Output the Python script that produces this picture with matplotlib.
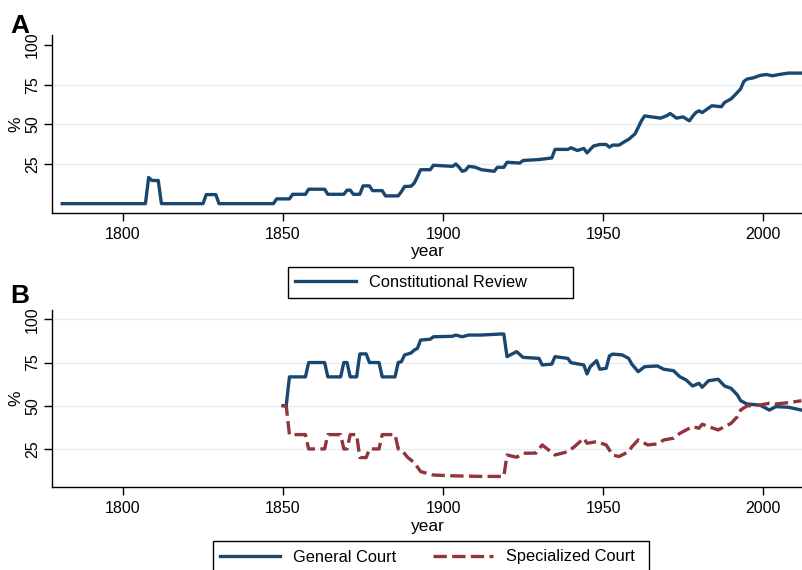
import matplotlib
matplotlib.use("Agg")
import matplotlib.pyplot as plt
from matplotlib.patches import Rectangle

plt.rcParams['font.family'] = ['Liberation Sans', 'DejaVu Sans']

BLUE = '#1a476f'
RED = '#90353b'
GRID = '#e6eef2'

# panel A: constitutional review (% of constitutions)
review_years = [1781, 1807, 1808, 1809, 1811, 1812, 1825, 1826, 1829, 1830,
                1847, 1848, 1852, 1853, 1857, 1858, 1863, 1864, 1869, 1870,
                1871, 1872, 1874, 1875, 1877, 1878, 1881, 1882, 1886, 1887,
                1888, 1890, 1891, 1892, 1893, 1896, 1897, 1903, 1904, 1905,
                1906, 1907, 1908, 1910, 1912, 1916, 1917, 1919, 1920, 1924,
                1925, 1930, 1934, 1935, 1939, 1940, 1942, 1944, 1945, 1947,
                1949, 1951, 1952, 1953, 1955, 1957, 1958, 1960, 1961, 1962,
                1963, 1968, 1970, 1971, 1973, 1975, 1977, 1978, 1979, 1980,
                1981, 1984, 1987, 1988, 1990, 1991, 1993, 1994, 1995, 1997,
                1999, 2001, 2003, 2005, 2008, 2012]
review_pct = [0, 0, 16.5, 14.6, 14.6, 0, 0, 5.7, 5.7, 0,
              0, 3, 3, 5.9, 5.9, 9.1, 9.1, 5.9, 5.9, 8.5,
              8.5, 5.9, 5.9, 11.2, 11.2, 8.2, 8.2, 4.9, 4.9, 7.6,
              10.8, 11, 12.9, 17, 21.4, 21.4, 24.2, 23.5, 25, 23,
              20.4, 21, 23.5, 23, 21.4, 20.4, 22.9, 22.9, 26.1, 25.6,
              27.2, 27.8, 28.8, 34.2, 34.2, 35.2, 33.5, 34.8, 32, 36.3,
              37.3, 37.3, 35.6, 36.9, 36.9, 39.4, 40.5, 44, 48, 52.2,
              55.3, 53.9, 55.5, 56.8, 53.9, 54.7, 52.2, 55, 57.4, 58.5,
              57.4, 61.7, 61.1, 63.8, 66, 68, 72.3, 77, 78.5, 79.3,
              80.8, 81.4, 80.6, 81.4, 82.3, 82.3]

# panel B: general vs specialized court
general_years = [1850, 1851, 1852, 1857, 1858, 1863, 1864, 1868, 1869, 1870,
                 1871, 1873, 1874, 1876, 1877, 1880, 1881, 1885, 1886, 1887,
                 1888, 1890, 1891, 1892, 1893, 1896, 1897, 1903, 1904, 1906,
                 1908, 1912, 1918, 1919, 1920, 1923, 1925, 1930, 1931, 1934,
                 1935, 1939, 1940, 1944, 1945, 1946, 1948, 1949, 1951, 1952,
                 1953, 1956, 1958, 1959, 1961, 1963, 1967, 1969, 1972, 1974,
                 1976, 1978, 1980, 1981, 1983, 1986, 1988, 1990, 1992, 1993,
                 1995, 1999, 2002, 2004, 2008, 2012]
general_pct = [50, 50, 66.7, 66.7, 75, 75, 66.7, 66.7, 75, 75,
               66.7, 66.7, 80, 80, 75, 75, 66.7, 66.7, 75, 75.5,
               79.4, 80.5, 82.2, 83.2, 88, 88.5, 89.9, 90.2, 90.9, 89.9,
               90.9, 90.9, 91.5, 91.5, 78.4, 81.3, 78, 77.4, 73.6, 74.1,
               78.4, 77.4, 74.9, 73.6, 68.4, 72.6, 76.1, 71.1, 71.7, 78.8,
               79.9, 79.4, 77.4, 74.1, 69.7, 72.6, 73, 71.1, 70.3, 66.8,
               64.9, 61.4, 63, 60.7, 64.5, 65.3, 61.4, 60.1, 56.2, 52.9,
               51, 50.4, 47.5, 49.5, 49.1, 47.5]

special_years = [1850, 1851, 1852, 1857, 1858, 1863, 1864, 1868, 1869, 1870,
                 1871, 1873, 1874, 1876, 1877, 1880, 1881, 1885, 1886, 1887,
                 1889, 1891, 1893, 1897, 1904, 1912, 1919, 1920, 1923, 1925,
                 1929, 1931, 1935, 1939, 1941, 1944, 1945, 1948, 1951, 1953,
                 1955, 1958, 1959, 1961, 1964, 1967, 1969, 1972, 1974, 1976,
                 1978, 1980, 1981, 1983, 1986, 1988, 1990, 1992, 1993, 1995,
                 1999, 2002, 2004, 2008, 2012]
special_pct = [50, 50, 33.3, 33.3, 25, 25, 33.3, 33.3, 25, 25,
               33.3, 33.3, 20, 20, 25, 25, 33.3, 33.3, 25, 24.5,
               20, 17.1, 11.9, 9.9, 9.4, 9.1, 9.1, 21.5, 20.2, 22.5,
               22.6, 27.3, 21.5, 23.4, 26.2, 31.2, 28.3, 29.2, 27.3, 21.5,
               20.6, 23.4, 26.2, 30.2, 27.3, 27.9, 30.2, 31.2, 34, 36,
               37.9, 37, 39.3, 37.9, 36, 37.9, 39.8, 43.7, 47.5, 49.9,
               50.4, 51.4, 51, 51.8, 52.9]

W, H = 803, 570
fig = plt.figure(figsize=(W / 100, H / 100), dpi=100)


def px_axes(left, top, right, bottom):
    return fig.add_axes([left / W, 1 - bottom / H, (right - left) / W, (bottom - top) / H])


def style(ax, ylim, grid_at):
    ax.set_xlim(1777.8, 2012.5)
    ax.set_ylim(*ylim)
    ax.set_xticks([1800, 1850, 1900, 1950, 2000])
    ax.set_yticks([25, 50, 75, 100])
    for g in grid_at:
        ax.axhline(g, color=GRID, lw=1.0, zorder=0)
    for s in ['top', 'right']:
        ax.spines[s].set_visible(False)
    for s in ['left', 'bottom']:
        ax.spines[s].set_linewidth(1.0)
    ax.tick_params(axis='both', length=6, width=1.0, labelsize=11.5, colors='black')
    ax.tick_params(axis='x', pad=4)
    ax.tick_params(axis='y', pad=2.5)
    for lab in ax.get_yticklabels():
        lab.set_rotation(90)
        lab.set_va('center')
    ax.set_xlabel('year', fontsize=12.5, labelpad=2)
    ax.set_ylabel('%', fontsize=12.5, labelpad=1)


def legend_box(handles, labels, left, top, right, bottom, ncol, spacing):
    fig.patches.append(Rectangle((left / W, 1 - bottom / H), (right - left) / W,
                                 (bottom - top) / H, transform=fig.transFigure,
                                 fill=False, edgecolor='black', lw=1.0))
    fig.legend(handles, labels, loc='center left', ncol=ncol, frameon=False,
               bbox_to_anchor=((left + 2) / W, 1 - (top + 31 / 2 + 0.5) / H),
               fontsize=11.8, handlelength=3.7, handletextpad=0.8,
               columnspacing=spacing, borderpad=0.3, borderaxespad=0)


# panel A
axA = px_axes(52, 35, 803, 212.7)
style(axA, (-5.7, 106.3), [25, 50, 75])
lineA, = axA.plot(review_years, review_pct, color=BLUE, lw=2.4)
fig.text(10 / W, 1 - 33 / H, 'A', fontsize=19, fontweight='bold')
legend_box([lineA], ['Constitutional Review'], 288.3, 266.7, 573.3, 297.7, 1, 2.0)

# panel B
axB = px_axes(52, 310, 803, 487.3)
style(axB, (2.8, 105.4), [25, 50, 75, 100])
lineG, = axB.plot(general_years, general_pct, color=BLUE, lw=2.4)
lineS, = axB.plot(special_years, special_pct, color=RED, lw=2.4, dashes=(4, 1.6))
fig.text(10 / W, 1 - 303 / H, 'B', fontsize=19, fontweight='bold')
legend_box([lineG, lineS], ['General Court', 'Specialized Court'],
           212.7, 541, 649.3, 572, 2, 2.2)

fig.savefig('out.png', dpi=100)
